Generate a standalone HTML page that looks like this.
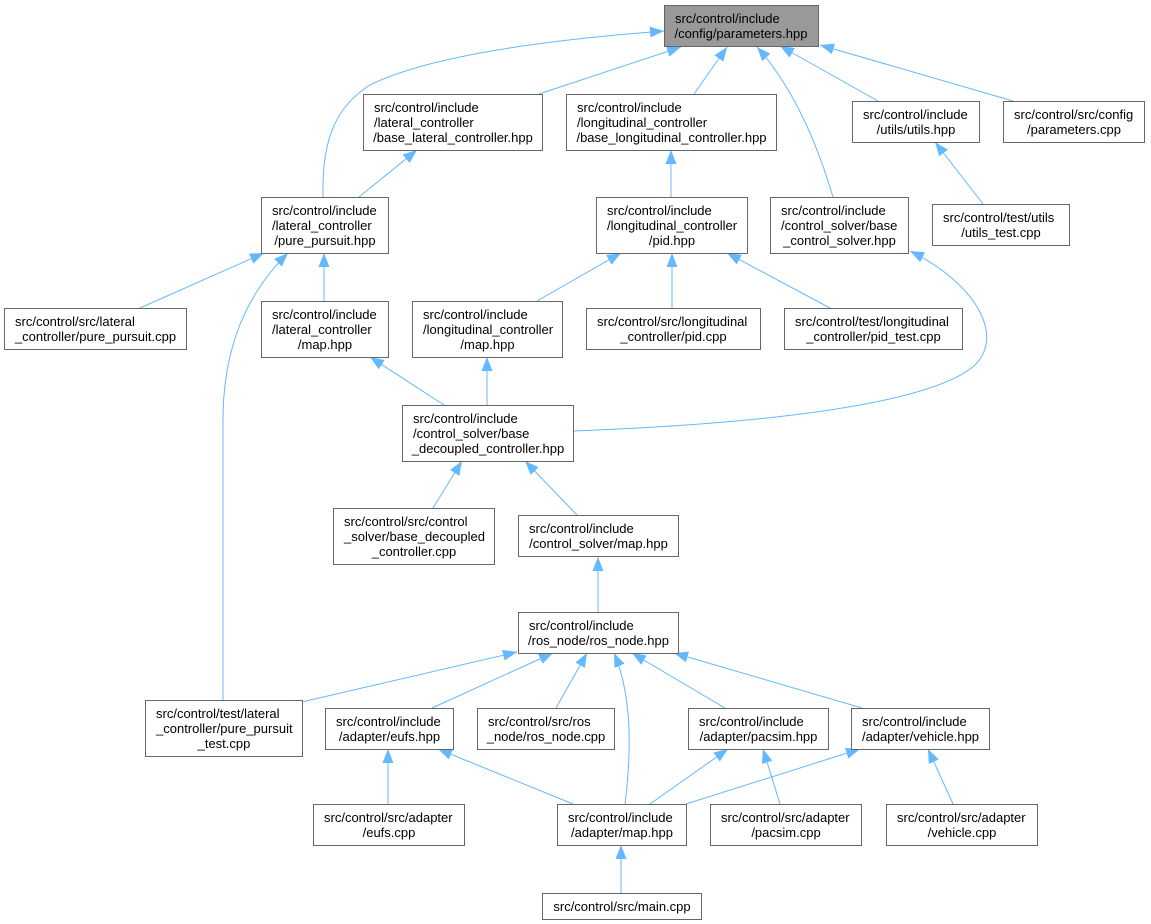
<!DOCTYPE html>
<html>
<head>
<meta charset="utf-8">
<style>
  html, body { margin: 0; padding: 0; background: #ffffff; }
  body { width: 1151px; height: 924px; overflow: hidden; }
  svg { display: block; }
  text { font-family: "Liberation Sans", Arial, sans-serif; font-size: 13px; fill: #000000; }
  .n { fill: #ffffff; stroke: #666666; stroke-width: 1; }
  .r { fill: #999999; stroke: #666666; stroke-width: 1; }
  .e { fill: none; stroke: #63b8ff; stroke-width: 1; marker-end: url(#ah); }
  .c { text-anchor: middle; }
</style>
</head>
<body>
<svg width="1151" height="924" viewBox="0 0 1151 924" xmlns="http://www.w3.org/2000/svg">
  <defs>
    <marker id="ah" markerWidth="14" markerHeight="11" refX="14" refY="5.5" orient="auto" markerUnits="userSpaceOnUse">
      <path d="M0,0 L14,5.5 L0,11 z" fill="#63b8ff"/>
    </marker>
  </defs>

  <!-- Edges -->
  <path class="e" d="M323,197 C322,150 330,110 370,85 C420,60 520,42 664,31"/>
  <path class="e" d="M539,94 L681,47"/>
  <path class="e" d="M694,94 L727,47"/>
  <path class="e" d="M833,197 C822,160 800,95 757,47"/>
  <path class="e" d="M878,101 L780,46"/>
  <path class="e" d="M1013,101 L820,45"/>
  <path class="e" d="M359,197 L417,150"/>
  <path class="e" d="M671,197 L671,150"/>
  <path class="e" d="M983,204 L935,142"/>
  <path class="e" d="M140,308 L264,253"/>
  <path class="e" d="M324,301 L324,253"/>
  <path class="e" d="M223,700 L223,420 C223,350 245,295 288,253"/>
  <path class="e" d="M537,301 L621,253"/>
  <path class="e" d="M672,308 L672,253"/>
  <path class="e" d="M830,308 L727,253"/>
  <path class="e" d="M444,405 L370,357"/>
  <path class="e" d="M487,405 L487,357"/>
  <path class="e" d="M573,431 C760,424 930,405 975,365 C1005,335 975,283 910,251"/>
  <path class="e" d="M433,508 L462,461"/>
  <path class="e" d="M577,515 L525,461"/>
  <path class="e" d="M598,612 L598,557"/>
  <path class="e" d="M302,702 L517,652"/>
  <path class="e" d="M432,708 L553,653"/>
  <path class="e" d="M556,708 L587,653"/>
  <path class="e" d="M625,804 C633,740 630,690 614,653"/>
  <path class="e" d="M725,708 L632,653"/>
  <path class="e" d="M862,708 L674,653"/>
  <path class="e" d="M388,804 L388,749"/>
  <path class="e" d="M573,804 L438,749"/>
  <path class="e" d="M650,804 L728,749"/>
  <path class="e" d="M780,804 L763,749"/>
  <path class="e" d="M686,804 L860,749"/>
  <path class="e" d="M953,804 L928,749"/>
  <path class="e" d="M621,893 L621,845"/>

  <!-- Nodes -->
  <rect class="r" x="664.5" y="5.5" width="154" height="41"/>
  <text x="675" y="23">src/control/include</text>
  <text class="c" x="741" y="38">/config/parameters.hpp</text>

  <rect class="n" x="363.5" y="94.5" width="179" height="56"/>
  <text x="374" y="112">src/control/include</text>
  <text x="374" y="127">/lateral_controller</text>
  <text class="c" x="453" y="142">/base_lateral_controller.hpp</text>

  <rect class="n" x="566.5" y="94.5" width="210" height="56"/>
  <text x="577" y="112">src/control/include</text>
  <text x="577" y="127">/longitudinal_controller</text>
  <text class="c" x="671.5" y="142">/base_longitudinal_controller.hpp</text>

  <rect class="n" x="852.5" y="101.5" width="127" height="41"/>
  <text x="863" y="119">src/control/include</text>
  <text class="c" x="916" y="134">/utils/utils.hpp</text>

  <rect class="n" x="1003.5" y="101.5" width="141" height="41"/>
  <text x="1014" y="119">src/control/src/config</text>
  <text class="c" x="1074" y="134">/parameters.cpp</text>

  <rect class="n" x="261.5" y="197.5" width="127" height="56"/>
  <text x="272" y="215">src/control/include</text>
  <text x="272" y="230">/lateral_controller</text>
  <text class="c" x="325" y="245">/pure_pursuit.hpp</text>

  <rect class="n" x="596.5" y="197.5" width="151" height="56"/>
  <text x="607" y="215">src/control/include</text>
  <text x="607" y="230">/longitudinal_controller</text>
  <text class="c" x="672" y="245">/pid.hpp</text>

  <rect class="n" x="770.5" y="197.5" width="138" height="56"/>
  <text x="781" y="215">src/control/include</text>
  <text x="781" y="230">/control_solver/base</text>
  <text class="c" x="839.5" y="245">_control_solver.hpp</text>

  <rect class="n" x="932.5" y="204.5" width="137" height="41"/>
  <text x="943" y="222">src/control/test/utils</text>
  <text class="c" x="1001" y="237">/utils_test.cpp</text>

  <rect class="n" x="4.5" y="308.5" width="182" height="41"/>
  <text x="15" y="326">src/control/src/lateral</text>
  <text class="c" x="95.5" y="341">_controller/pure_pursuit.cpp</text>

  <rect class="n" x="261.5" y="301.5" width="127" height="56"/>
  <text x="272" y="319">src/control/include</text>
  <text x="272" y="334">/lateral_controller</text>
  <text class="c" x="325" y="349">/map.hpp</text>

  <rect class="n" x="412.5" y="301.5" width="150" height="56"/>
  <text x="423" y="319">src/control/include</text>
  <text x="423" y="334">/longitudinal_controller</text>
  <text class="c" x="487.5" y="349">/map.hpp</text>

  <rect class="n" x="586.5" y="308.5" width="174" height="41"/>
  <text x="597" y="326">src/control/src/longitudinal</text>
  <text class="c" x="673.5" y="341">_controller/pid.cpp</text>

  <rect class="n" x="784.5" y="308.5" width="178" height="41"/>
  <text x="795" y="326">src/control/test/longitudinal</text>
  <text class="c" x="873.5" y="341">_controller/pid_test.cpp</text>

  <rect class="n" x="402.5" y="405.5" width="171" height="56"/>
  <text x="413" y="423">src/control/include</text>
  <text x="413" y="438">/control_solver/base</text>
  <text class="c" x="488" y="453">_decoupled_controller.hpp</text>

  <rect class="n" x="333.5" y="508.5" width="161" height="56"/>
  <text x="344" y="526">src/control/src/control</text>
  <text x="344" y="541">_solver/base_decoupled</text>
  <text class="c" x="414" y="556">_controller.cpp</text>

  <rect class="n" x="518.5" y="515.5" width="160" height="41"/>
  <text x="529" y="533">src/control/include</text>
  <text class="c" x="598.5" y="548">/control_solver/map.hpp</text>

  <rect class="n" x="518.5" y="612.5" width="160" height="41"/>
  <text x="529" y="630">src/control/include</text>
  <text class="c" x="598.5" y="645">/ros_node/ros_node.hpp</text>

  <rect class="n" x="145.5" y="700.5" width="157" height="56"/>
  <text x="156" y="718">src/control/test/lateral</text>
  <text x="156" y="733">_controller/pure_pursuit</text>
  <text class="c" x="224" y="748">_test.cpp</text>

  <rect class="n" x="325.5" y="708.5" width="128" height="41"/>
  <text x="336" y="726">src/control/include</text>
  <text class="c" x="389.5" y="741">/adapter/eufs.hpp</text>

  <rect class="n" x="477.5" y="708.5" width="137" height="41"/>
  <text x="488" y="726">src/control/src/ros</text>
  <text class="c" x="546" y="741">_node/ros_node.cpp</text>

  <rect class="n" x="688.5" y="708.5" width="140" height="41"/>
  <text x="699" y="726">src/control/include</text>
  <text class="c" x="758.5" y="741">/adapter/pacsim.hpp</text>

  <rect class="n" x="851.5" y="708.5" width="138" height="41"/>
  <text x="862" y="726">src/control/include</text>
  <text class="c" x="920.5" y="741">/adapter/vehicle.hpp</text>

  <rect class="n" x="313.5" y="804.5" width="151" height="41"/>
  <text x="324" y="822">src/control/src/adapter</text>
  <text class="c" x="389" y="837">/eufs.cpp</text>

  <rect class="n" x="557.5" y="804.5" width="129" height="41"/>
  <text x="568" y="822">src/control/include</text>
  <text class="c" x="622" y="837">/adapter/map.hpp</text>

  <rect class="n" x="710.5" y="804.5" width="151" height="41"/>
  <text x="721" y="822">src/control/src/adapter</text>
  <text class="c" x="786" y="837">/pacsim.cpp</text>

  <rect class="n" x="886.5" y="804.5" width="151" height="41"/>
  <text x="897" y="822">src/control/src/adapter</text>
  <text class="c" x="962" y="837">/vehicle.cpp</text>

  <rect class="n" x="542.5" y="893.5" width="159" height="26"/>
  <text class="c" x="622" y="911">src/control/src/main.cpp</text>
</svg>
</body>
</html>
